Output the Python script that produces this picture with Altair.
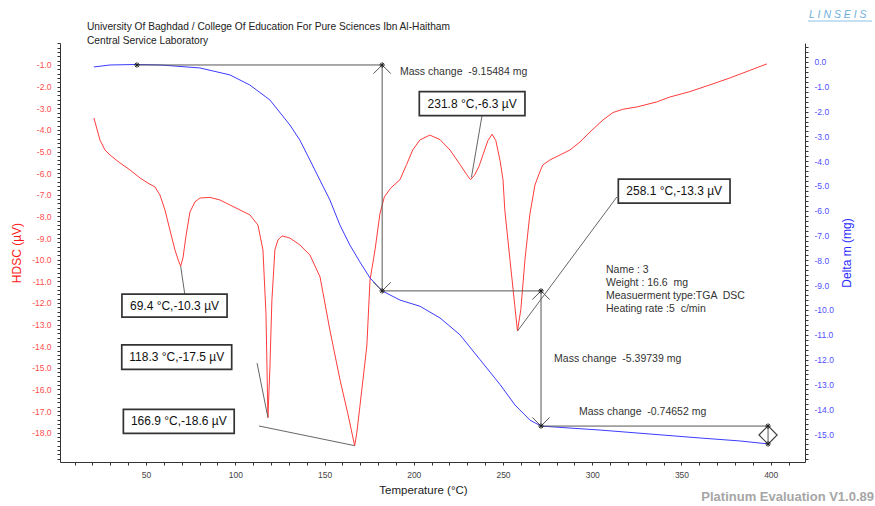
import altair as alt
import numpy as np
import pandas as pd

# ---------------- data ----------------
# DSC curve (red, left axis, µV)
dsc_temp = [20.8, 24.2, 27.0, 29.8, 35.4, 41.0, 46.6, 51.1, 55.0, 57.8, 60.6, 63.4, 66.2, 68.2, 69.4,
            70.7, 72.4, 74.6, 77.4, 80.2, 85.8, 91.4, 97.0, 102.6, 108.2, 112.7, 115.5, 117.2, 118.3,
            119.4, 120.5, 122.2, 123.9, 126.2, 130.6, 136.2, 141.8, 147.5, 153.0, 158.7, 163.0, 166.9,
            168.1, 169.8, 173.7, 175.5, 178.3, 181.0, 183.5, 187.0, 192.3, 196.0, 199.4, 203.4, 209.0,
            214.7, 220.3, 225.9, 229.5, 231.8, 234.0, 236.5, 239.0, 241.5, 243.9, 246.0, 248.3, 250.0,
            251.0, 253.9, 256.7, 258.1, 260.0, 262.3, 265.0, 267.9, 270.6, 272.3, 276.3, 281.9, 287.5,
            293.1, 298.7, 306.0, 311.6, 317.0, 325.0, 336.0, 343.5, 354.7, 365.9, 377.1, 388.3, 397.8]
dsc_uv = [-3.45, -4.47, -4.93, -5.16, -5.53, -5.85, -6.22, -6.46, -6.64, -7.01, -7.70, -8.63, -9.55, -10.05, -10.3,
          -9.92, -8.9, -7.8, -7.33, -7.15, -7.12, -7.24, -7.47, -7.70, -7.93, -8.4, -9.55, -12.5, -17.3,
          -15.0, -11.9, -9.55, -9.09, -8.9, -9.0, -9.32, -9.78, -10.8, -13.25, -15.56, -17.1, -18.6,
          -18.0, -16.8, -14.0, -10.94, -9.55, -7.9, -7.1, -6.7, -6.3, -5.6, -4.93, -4.47, -4.24,
          -4.45, -4.93, -5.6, -6.05, -6.3, -6.1, -5.7, -5.1, -4.5, -4.2, -4.5, -5.4, -6.3,
          -7.7, -10.0, -12.2, -13.3, -12.3, -10.0, -7.93, -6.55, -5.95, -5.62, -5.39, -5.16, -4.93,
          -4.56, -4.10, -3.54, -3.2, -3.05, -2.94, -2.71, -2.48, -2.23, -1.92, -1.6, -1.25, -0.95]

# TGA curve (blue, right axis, mg)
tga_temp = [20.8, 29.8, 44.9, 58.0, 80.2, 97.0, 108.2, 119.4, 130.6, 136.2, 141.8, 147.4, 153.0, 158.6,
            164.2, 169.8, 175.5, 182.3, 192.3, 203.5, 214.7, 225.9, 237.1, 248.3, 256.7, 265.1, 271.3,
            287.5, 304.3, 332.3, 360.3, 382.7, 398.5]
tga_mg = [-0.2, -0.12, -0.1, -0.12, -0.24, -0.52, -0.93, -1.53, -2.54, -3.15, -3.95, -4.76, -5.56, -6.57,
          -7.38, -8.06, -8.71, -9.23, -9.6, -9.85, -10.32, -11.0, -12.0, -13.0, -13.83, -14.44, -14.68,
          -14.76, -14.84, -15.0, -15.16, -15.28, -15.40]

# DSC peak labels
peak_labels = ["69.4 °C,-10.3 µV", "118.3 °C,-17.5 µV", "166.9 °C,-18.6 µV",
               "231.8 °C,-6.3 µV", "258.1 °C,-13.3 µV"]
peak_temp = [69.4, 118.3, 167.0, 232.3, 258.1]
peak_uv = [-10.3, -17.3, -18.6, -6.2, -13.3]
box_t1 = [36.5, 36.4, 37.3, 203.1, 314.6]
box_t2 = [95.4, 98.0, 99.4, 262.3, 377.2]
box_v1 = [-11.59, -13.94, -16.92, -2.23, -6.28]
box_v2 = [-12.66, -15.07, -18.03, -3.34, -7.39]
lead_t = [71.7, 112.2, 113.3, 238.2, 313.8]
lead_v = [-11.59, -14.78, -17.69, -3.36, -7.10]

# mass change steps
mc_temp = [44.9, 182.3, 271.3, 398.5]
mc_mass = [-0.12, -9.23, -14.68, -15.40]
mc_labels = ["Mass change \u00a0-9.15484 mg", "Mass change \u00a0-5.39739 mg", "Mass change \u00a0-0.74652 mg"]
mc_label_t = [192.3, 278.6, 292.6]
mc_label_m = [-0.40, -11.98, -14.11]

# info block
info_lines = ["Name : 3", "Weight : 16.6 \u00a0mg", "Measuerment type:TGA \u00a0DSC", "Heating rate :5 \u00a0c/min"]
info_temp = [307.7, 307.7, 307.7, 307.7]
info_uv = [-10.48, -11.08, -11.68, -12.28]

title_lines = "University Of Baghdad / College Of Education For Pure Sciences Ibn Al-Haitham\nCentral Service Laboratory"

# ---------------- chart ----------------
FONT = "Liberation Sans"
W, H = 745, 419
RED = "#ff3c3c"
BLUE = "#3c3cff"

x_scale = alt.Scale(domain=[1.8, 419.2], nice=False, zero=False)
yl_scale = alt.Scale(domain=[-19.354, 0.017], nice=False, zero=False)
yr_scale = alt.Scale(domain=[-16.129, 0.766], nice=False, zero=False)

is_int = "abs(datum.value - round(datum.value)) < 0.01"

x_axis = alt.Axis(
    values=list(range(10, 420, 10)),
    labelExpr="datum.value % 50 == 0 ? format(datum.value, 'd') : ''",
    tickSize=3, labelPadding=5, labelFontSize=8.5, labelColor="#444",
    labelOverlap=False, domainColor="#333", tickColor="#333", grid=False,
    title="Temperature (°C)", titleFontSize=11.5, titleFontWeight="normal", titleColor="#222",
    titlePadding=6, titleX=363,
)

yl_axis = alt.Axis(
    orient="left",
    values=np.round(np.arange(-19.2, 0.01, 0.2), 1).tolist(),
    labelExpr=f"{is_int} && datum.value <= -1 && datum.value >= -18 ? '-' + format(-datum.value, '.1f') : ''",
    tickSize=3,
    labelPadding=6, labelFontSize=8.5, labelColor="#ff4d4d", labelOverlap=False,
    domainColor="#333", tickColor="#333", grid=False,
    title="HDSC (µV)", titleColor="#ff1a1a", titleFontSize=12, titleFontWeight="normal",
    titlePadding=8,
)

yr_axis = alt.Axis(
    orient="right",
    values=np.round(np.arange(-16.0, 0.61, 0.2), 1).tolist(),
    labelExpr=f"{is_int} && datum.value >= -15 ? (datum.value < 0 ? '-' : '') + format(abs(datum.value), '.1f') : ''",
    tickSize=3,
    labelPadding=6, labelFontSize=8.5, labelColor="#5050ff", labelOverlap=False,
    domainColor="#333", tickColor="#333", grid=False,
    title="Delta m (mg)", titleColor="#2a2aff", titleFontSize=12, titleFontWeight="normal",
    titleAngle=270, titlePadding=20,
)


def X(f):
    # every layer shares the same x axis definition so the merged axis stays intact
    return alt.X(f, type="quantitative", scale=x_scale, axis=x_axis)


def YL(f, axis=None):
    return alt.Y(f, type="quantitative", scale=yl_scale, axis=axis)


def YR(f, axis=None):
    return alt.Y(f, type="quantitative", scale=yr_scale, axis=axis)


# ---- DSC (left scale) ----
dsc_df = pd.DataFrame({"t": dsc_temp, "v": dsc_uv})
red = alt.Chart(dsc_df).mark_line(color=RED, strokeWidth=1).encode(
    x=X("t"), y=YL("v", yl_axis))

# ---- TGA (right scale) ----
tga_df = pd.DataFrame({"t": tga_temp, "m": tga_mg})
blue = alt.Chart(tga_df).mark_line(color=BLUE, strokeWidth=1).encode(
    x=X("t"), y=YR("m", yr_axis))

lead_df = pd.DataFrame({"t1": lead_t, "v1": lead_v, "t2": peak_temp, "v2": peak_uv})
leaders = alt.Chart(lead_df).mark_rule(color="#666", strokeWidth=1).encode(
    x=X("t1"), x2="t2", y=YL("v1"), y2="v2")

box_df = pd.DataFrame({"t1": box_t1, "t2": box_t2, "v1": box_v1, "v2": box_v2, "label": peak_labels})
boxes = alt.Chart(box_df).mark_rect(fill="white", stroke="#333", strokeWidth=1.7).encode(
    x=X("t1"), x2="t2", y=YL("v1"), y2="v2")
box_text = alt.Chart(box_df).transform_calculate(
    tc="(datum.t1 + datum.t2) / 2", vc="(datum.v1 + datum.v2) / 2"
).mark_text(fontSize=12, color="#111", font=FONT).encode(
    x=X("tc"), y=YL("vc"), text="label:N")

info_df = pd.DataFrame({"t": info_temp, "v": info_uv, "txt": info_lines})
info = alt.Chart(info_df).mark_text(align="left", fontSize=10.5, color="#333", font=FONT).encode(
    x=X("t"), y=YL("v"), text="txt:N")

one = pd.DataFrame({"a": [0]})
title = alt.Chart(pd.DataFrame({"txt": [title_lines]})).mark_text(
    align="left", baseline="alphabetic", lineBreak="\n", lineHeight=14, fontSize=10.2,
    color="#222", font=FONT).encode(x=alt.value(27), y=alt.value(-13), text="txt:N")
logo = alt.Chart(pd.DataFrame({"txt": ["L I N S E I S"]})).mark_text(
    align="left", baseline="middle", fontSize=10.5, fontStyle="italic", color="#6fb0da",
    font=FONT).encode(x=alt.value(749), y=alt.value(-28), text="txt:N")
logo_line = alt.Chart(one).mark_rule(color="#8cc2e4", strokeWidth=1).encode(
    x=alt.value(748), x2=alt.value(812), y=alt.value(-22))
footer = alt.Chart(pd.DataFrame({"txt": ["Platinum Evaluation V1.0.89"]})).mark_text(
    align="right", baseline="middle", fontSize=13, fontWeight="bold", color="#a6a6a6",
    font=FONT).encode(x=alt.value(814), y=alt.value(454), text="txt:N")

h_df = pd.DataFrame({"t1": mc_temp[:-1], "t2": mc_temp[1:], "m": mc_mass[:-1]})
v_df = pd.DataFrame({"t": mc_temp[1:], "m1": mc_mass[:-1], "m2": mc_mass[1:]})
h_rules = alt.Chart(h_df).mark_rule(color="#555", strokeWidth=1).encode(
    x=X("t1"), x2="t2", y=YR("m"))
v_rules = alt.Chart(v_df).mark_rule(color="#555", strokeWidth=1).encode(
    x=X("t"), y=YR("m1"), y2="m2")

arrow_df = v_df.iloc[:2]
chev_up = alt.Chart(arrow_df).mark_point(
    shape="M -1 1 L 0 0 L 1 1", filled=False, size=300, color="#555", strokeWidth=1, opacity=1
).encode(x=X("t"), y=YR("m1"))
chev_down = alt.Chart(arrow_df).mark_point(
    shape="M -1 -1 L 0 0 L 1 -1", filled=False, size=300, color="#555", strokeWidth=1, opacity=1
).encode(x=X("t"), y=YR("m2"))
diamond = alt.Chart(v_df.iloc[2:]).transform_calculate(
    mid="(datum.m1 + datum.m2) / 2"
).mark_point(shape="diamond", filled=False, size=330, color="#444", strokeWidth=1.2, opacity=1).encode(
    x=X("t"), y=YR("mid"))

star_df = pd.DataFrame({
    "t": [mc_temp[0]] + [t for t in mc_temp[1:] for _ in range(2)],
    "m": [mc_mass[0]] + [m for i in range(1, 4) for m in (mc_mass[i - 1], mc_mass[i])],
})
stars = alt.Chart(star_df).mark_point(
    shape="M -1 0 L 1 0 M 0 -1 L 0 1 M -0.7 -0.7 L 0.7 0.7 M -0.7 0.7 L 0.7 -0.7",
    filled=False, size=30, color="#222", strokeWidth=1, opacity=1
).encode(x=X("t"), y=YR("m"))

mc_df = pd.DataFrame({"t": mc_label_t, "m": mc_label_m, "txt": mc_labels})
mc_text = alt.Chart(mc_df).mark_text(align="left", fontSize=10.5, color="#333", font=FONT).encode(
    x=X("t"), y=YR("m"), text="txt:N")

chart = alt.layer(
    red, blue, leaders, h_rules, v_rules, chev_up, chev_down, diamond, stars,
    boxes, box_text, info, mc_text, title, logo, logo_line, footer,
).resolve_scale(y="independent").properties(
    width=W, height=H, autosize=alt.AutoSizeParams(type="none"),
    padding={"left": 60, "top": 43, "right": 70, "bottom": 44},
    background="white",
).configure(font=FONT).configure_view(stroke=None)

chart.save("out.html", embed_options={"renderer": "svg", "actions": False})
